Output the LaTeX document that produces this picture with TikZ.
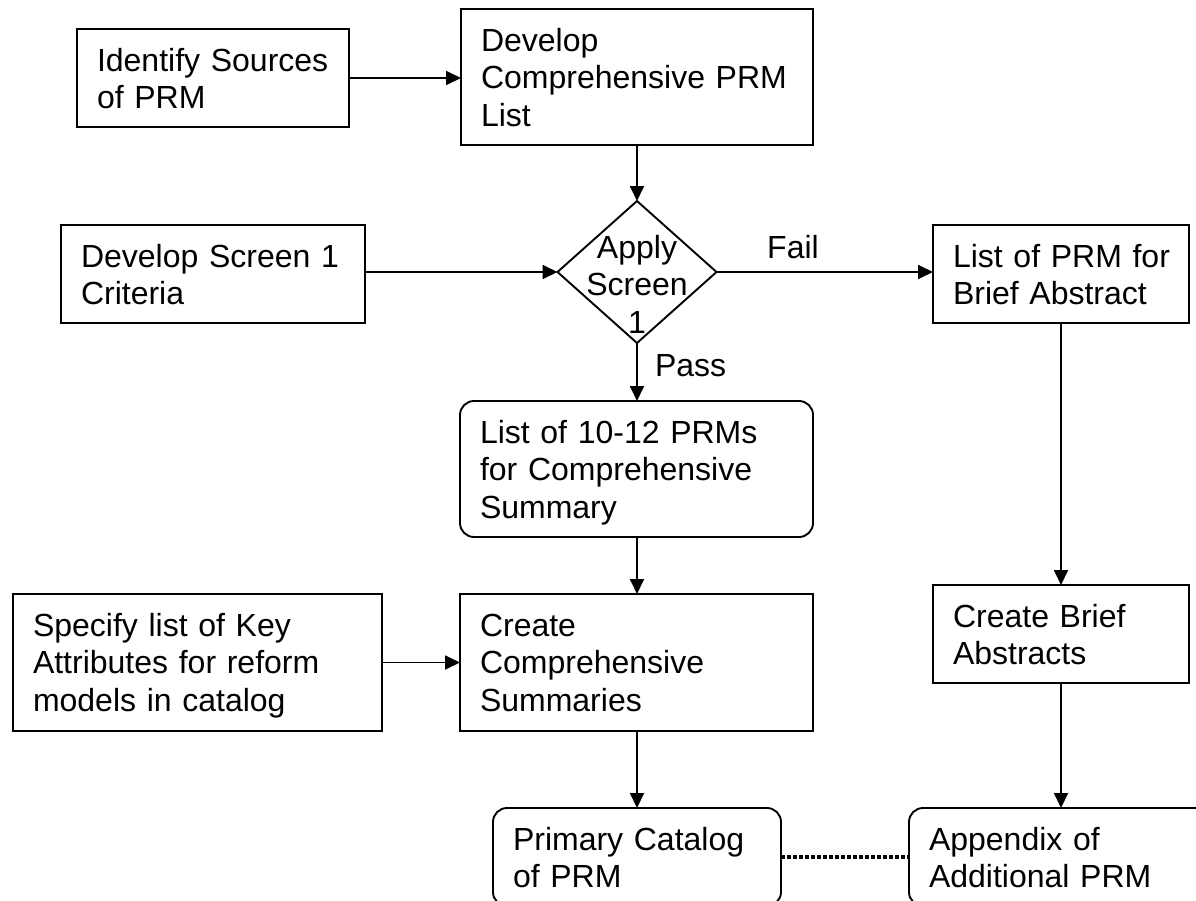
\documentclass[tikz,border=0pt]{standalone}
\usepackage{fontspec}
\setmainfont{Liberation Sans}
\usetikzlibrary{shapes.geometric,arrows.meta}
\begin{document}
\begin{tikzpicture}[x=1pt,y=-1pt,
  font=\fontsize{32}{37.5}\selectfont,
  every node/.style={outer sep=0pt},
  stepbox/.style={draw, line width=1.9pt, anchor=north west, inner xsep=20pt,
    inner ysep=19pt, align=left, text height=23pt},
  roundbox/.style={stepbox, rounded corners=14pt},
  decision/.style={draw, diamond, line width=1.9pt, inner sep=0pt},
  tag/.style={inner sep=0pt},
  arr/.style={line width=1.8pt, -{Triangle[length=15pt,width=14pt]}},
  link/.style={line width=4pt, dash pattern=on 3.5pt off 2.5pt},
]
\useasboundingbox (0,0) rectangle (1196,900);
\fill[white] (0,0) rectangle (1196,900);
\clip (0,0) rectangle (1196,900);

% process boxes
\node[stepbox, text width=232pt, text depth=37pt] (identify) at (77,29)
  {\mbox{Identify Sources}\\of PRM};
\node[stepbox, text width=312pt, text depth=75pt] (develop) at (461,9)
  {Develop\\\mbox{Comprehensive PRM}\\List};
\node[stepbox, text width=264pt, text depth=37pt] (crit) at (61,225)
  {\mbox{Develop Screen 1}\\Criteria};
\node[stepbox, text width=216pt, text depth=37pt] (brief) at (933,225)
  {\mbox{List of PRM for}\\\mbox{Brief Abstract}};
\node[roundbox, text width=313pt, text depth=75pt] (summ) at (460,401)
  {\mbox{List of 10-12 PRMs}\\\mbox{for Comprehensive}\\Summary};
\node[stepbox, text width=329pt, text depth=76pt] (spec) at (13,594)
  {\mbox{Specify list of Key}\\\mbox{Attributes for reform}\\\mbox{models in catalog}};
\node[stepbox, text width=313pt, text depth=76pt] (create) at (460,594)
  {Create\\Comprehensive\\Summaries};
\node[stepbox, text width=216pt, text depth=37pt] (cbrief) at (933,585)
  {\mbox{Create Brief}\\Abstracts};
\node[roundbox, text width=248pt, text depth=37pt] (primary) at (493,808)
  {\mbox{Primary Catalog}\\of PRM};
\node[roundbox, text width=264pt, text depth=37pt] (appendix) at (909,808)
  {\mbox{Appendix of}\\\mbox{Additional PRM}};

% screening decision
\node[decision, minimum width=159pt, minimum height=142pt] (dia) at (637,272) {};
\node[tag, anchor=base] (diatxt) at (637,258)
  {\parbox[t]{130pt}{\centering Apply\\Screen\\1}};

% connectors
\draw[arr] (identify.east) -- (identify.east -| develop.west);
\draw[arr] (develop.south) -- (dia.north);
\draw[arr] (crit.east |- dia.west) -- (dia.west);
\draw[arr] (dia.east) -- (dia.east -| brief.west);
\draw[arr] (brief.south) -- (cbrief.north);
\draw[arr] (dia.south) -- (dia.south |- summ.north);
\draw[arr] (summ.south -| dia.south) -- (create.north -| dia.south);
\draw[arr] (spec.east) -- (spec.east -| create.west);
\draw[arr] (create.south -| dia.south) -- (primary.north);
\draw[arr] (cbrief.south) -- (appendix.north);
\draw[link] (primary.east) -- (appendix.west);

% branch labels
\node[tag, anchor=base] (fail) at (793,258) {Fail};
\node[tag, anchor=base west] (pass) at (655,376) {Pass};
\end{tikzpicture}
\end{document}
